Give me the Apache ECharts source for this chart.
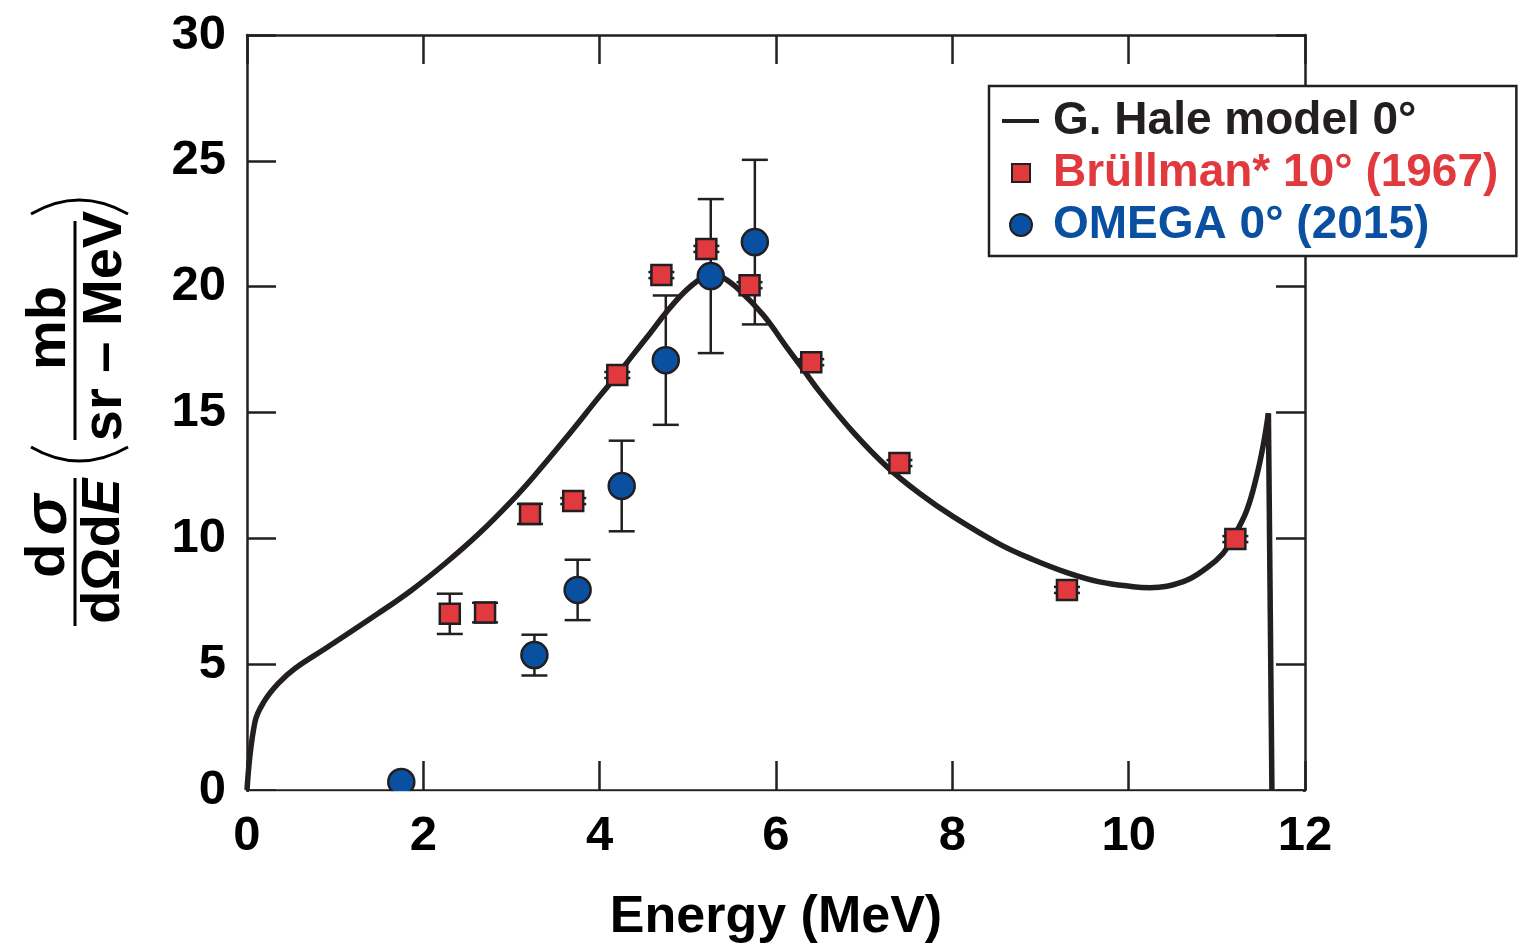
<!DOCTYPE html>
<html>
<head>
<meta charset="utf-8">
<script src="https://cdn.jsdelivr.net/npm/echarts@6/dist/echarts.min.js"></script>
<style>html,body{margin:0;padding:0;background:#fff;}#c{width:1528px;height:945px;}</style>
</head>
<body>
<div id="c"></div>
<script>
// ---- data ----
const xTicks = [0, 2, 4, 6, 8, 10, 12];
const yTicks = [0, 5, 10, 15, 20, 25, 30];
const haleE = [0, 0.09, 0.2, 0.355, 0.544, 0.92, 1.49, 1.87, 2.25, 2.62, 3.0, 3.25, 3.63, 4.0, 4.2, 4.38, 4.57, 4.76, 4.95, 5.14, 5.28, 5.40, 5.59, 5.86, 6.12, 6.31, 6.5, 6.88, 7.26, 7.63, 8.01, 8.54, 8.92, 9.30, 9.67, 10.05, 10.24, 10.62, 10.88, 11.07, 11.19, 11.34, 11.45, 11.53, 11.585];
const haleV = [0, 2.7, 3.55, 4.24, 4.83, 5.69, 7.02, 7.95, 9.01, 10.15, 11.48, 12.45, 14.04, 15.65, 16.5, 17.3, 18.14, 19.0, 19.75, 20.3, 20.48, 20.36, 19.85, 18.85, 17.6, 16.7, 15.8, 14.2, 12.84, 11.78, 10.86, 9.76, 9.15, 8.64, 8.27, 8.08, 8.04, 8.28, 8.81, 9.40, 10.06, 11.12, 12.45, 13.77, 14.97];
const haleDropE = [11.585, 11.625];
const haleDropV = [14.97, 0];
const brE = [2.30, 2.70, 3.21, 3.70, 4.20, 4.70, 5.21, 5.70, 6.40, 7.40, 9.30, 11.21];
const brV = [7.0, 7.05, 10.97, 11.48, 16.49, 20.46, 21.5, 20.06, 17.0, 12.99, 7.95, 9.97];
const brErr = [0.8, 0.39, 0.4, 0.12, 0.12, 0.12, 0.12, 0.12, 0.12, 0.12, 0.12, 0.12];
const omE = [1.75, 3.26, 3.75, 4.25, 4.75, 5.26, 5.76];
const omV = [0.32, 5.36, 7.95, 12.08, 17.08, 20.42, 21.77];
const omErr = [0, 0.81, 1.2, 1.8, 2.57, 3.06, 3.27];
const names = ['G. Hale model 0°', 'Brüllman* 10° (1967)', 'OMEGA 0° (2015)'];

const INK = '#231f20', RED = '#e03a3e', BLUE = '#0a50a1';
const FONT = '"Liberation Sans", Arial, Helvetica, sans-serif';

const zip = (a, b) => a.map((v, i) => [v, b[i]]);
const zip3 = (a, b, c) => a.map((v, i) => [v, b[i], c[i]]);

function errRender(params, api) {
  const x = api.value(0), y = api.value(1), e = api.value(2);
  if (!e) return null;
  const top = api.coord([x, y + e]);
  const bot = api.coord([x, y - e]);
  const hw = 13;
  const st = { stroke: INK, lineWidth: 2.5 };
  return {
    type: 'group',
    children: [
      { type: 'line', shape: { x1: top[0], y1: top[1], x2: bot[0], y2: bot[1] }, style: st },
      { type: 'line', shape: { x1: top[0] - hw, y1: top[1], x2: top[0] + hw, y2: top[1] }, style: st },
      { type: 'line', shape: { x1: bot[0] - hw, y1: bot[1], x2: bot[0] + hw, y2: bot[1] }, style: st }
    ]
  };
}

function axis(extra) {
  return Object.assign({
    type: 'value',
    axisLine: { show: true, onZero: false, lineStyle: { color: INK, width: 2.5 } },
    axisTick: { show: true, inside: true, length: 29, lineStyle: { color: INK, width: 2.5 } },
    splitLine: { show: false },
    axisLabel: { show: false }
  }, extra);
}
const labelStyle = { show: true, color: '#000', fontFamily: FONT, fontWeight: 'bold', fontSize: 49 };

// legend icons (box 46 x 22)
const ICON_LINE = 'path://M0,9 L37,9 L37,13 L0,13 Z M0,0 L0,0 M46,22 L46,22';
const ICON_SQ = 'path://M10,2 L28,2 L28,20 L10,20 Z M0,0 L0,0 M46,22 L46,22';
const ICON_CI = 'path://M8,11 A11,11 0 1,1 30,11 A11,11 0 1,1 8,11 Z M0,0 L0,0 M46,22 L46,22';

const chart = echarts.init(document.getElementById('c'));
const option = {
  animation: false,
  backgroundColor: '#fff',
  grid: { left: 247, top: 35, right: 223, bottom: 155, outerBoundsMode: 'none', containLabel: false },
  xAxis: [
    axis({
      min: xTicks[0], max: xTicks[xTicks.length - 1], interval: 2, position: 'bottom',
      axisLabel: Object.assign({}, labelStyle, { margin: 22 }),
      name: 'Energy (MeV)', nameLocation: 'middle', nameGap: 102,
      nameTextStyle: { color: '#000', fontFamily: FONT, fontWeight: 'bold', fontSize: 52 }
    }),
    axis({ min: xTicks[0], max: xTicks[xTicks.length - 1], interval: 2, position: 'top' })
  ],
  yAxis: [
    axis({
      min: yTicks[0], max: yTicks[yTicks.length - 1], interval: 5, position: 'left',
      axisLabel: Object.assign({}, labelStyle, { margin: 21 })
    }),
    axis({ min: yTicks[0], max: yTicks[yTicks.length - 1], interval: 5, position: 'right' })
  ],
  legend: {
    orient: 'vertical', left: 989, top: 86,
    backgroundColor: '#fff',
    borderColor: INK, borderWidth: 2.5,
    padding: [12, 18, 8, 12],
    itemGap: 6, itemWidth: 46, itemHeight: 22,
    selectedMode: false,
    textStyle: { fontFamily: FONT, fontWeight: 'bold', fontSize: 46, lineHeight: 46 },
    data: [
      { name: names[0], icon: ICON_LINE, textStyle: { color: INK } },
      { name: names[1], icon: ICON_SQ, textStyle: { color: RED } },
      { name: names[2], icon: ICON_CI, textStyle: { color: BLUE } }
    ]
  },
  series: [
    {
      name: names[1] + ' err', type: 'custom', renderItem: errRender, z: 2,
      data: zip3(brE, brV, brErr), encode: { x: 0, y: 1 }, silent: true
    },
    {
      name: names[2] + ' err', type: 'custom', renderItem: errRender, z: 2,
      data: zip3(omE, omV, omErr), encode: { x: 0, y: 1 }, silent: true
    },
    {
      name: names[0], type: 'line', data: zip(haleE, haleV), z: 3,
      smooth: 0.4, symbol: 'none',
      itemStyle: { color: INK },
      lineStyle: { color: INK, width: 5.5 }
    },
    {
      name: names[0], type: 'line', data: zip(haleDropE, haleDropV), z: 3,
      symbol: 'none', itemStyle: { color: INK },
      lineStyle: { color: INK, width: 5.5 }
    },
    {
      name: names[1], type: 'scatter', data: zip(brE, brV), z: 4,
      symbol: 'rect', symbolSize: 20,
      itemStyle: { color: RED, borderColor: INK, borderWidth: 2.5, opacity: 1 }
    },
    {
      name: names[2], type: 'scatter', data: zip(omE, omV), z: 4,
      symbol: 'circle', symbolSize: 26,
      itemStyle: { color: BLUE, borderColor: INK, borderWidth: 2.5, opacity: 1 }
    }
  ],
  graphic: [
    // mask below the x-axis line so symbols are cut at the axis
    { type: 'rect', z: 50, shape: { x: 249, y: 791.3, width: 1054, height: 14 }, style: { fill: '#fff' } },
    // y-axis title: d sigma / dOmega dE ( mb / sr - MeV )
    { type: 'text', x: 49, y: 536, rotation: Math.PI / 2, z: 60,
      style: { text: '{n|d}{s|σ}', fill: '#000', align: 'center', verticalAlign: 'middle',
        rich: { n: { font: 'bold 56px ' + FONT, fill: '#000' }, s: { font: 'italic bold 62px ' + FONT, fill: '#000', padding: [0, 0, 0, 8] } } } },
    { type: 'text', x: 104, y: 551, rotation: Math.PI / 2, z: 60,
      style: { text: '{n|dΩd}{i|E}', fill: '#000', align: 'center', verticalAlign: 'middle',
        rich: { n: { font: 'bold 54px ' + FONT, fill: '#000' }, i: { font: 'italic bold 54px ' + FONT, fill: '#000' } } } },
    { type: 'line', z: 60, shape: { x1: 75, y1: 478, x2: 75, y2: 626 }, style: { stroke: '#000', lineWidth: 3 } },
    { type: 'text', x: 50, y: 328, rotation: Math.PI / 2, z: 60,
      style: { text: 'mb', fill: '#000', font: 'bold 56px ' + FONT, align: 'center', verticalAlign: 'middle' } },
    { type: 'text', x: 106, y: 326, rotation: Math.PI / 2, z: 60,
      style: { text: 'sr – MeV', fill: '#000', font: 'bold 56px ' + FONT, align: 'center', verticalAlign: 'middle' } },
    { type: 'line', z: 60, shape: { x1: 75, y1: 221, x2: 75, y2: 440 }, style: { stroke: '#000', lineWidth: 3 } },
    { type: 'bezierCurve', z: 60, shape: { x1: 31, y1: 447, x2: 128, y2: 447, cpx1: 79, cpy1: 475 }, style: { stroke: '#000', lineWidth: 3, fill: null } },
    { type: 'bezierCurve', z: 60, shape: { x1: 31, y1: 214, x2: 128, y2: 214, cpx1: 79, cpy1: 186 }, style: { stroke: '#000', lineWidth: 3, fill: null } }
  ]
};
chart.setOption(option);
</script>
</body>
</html>
